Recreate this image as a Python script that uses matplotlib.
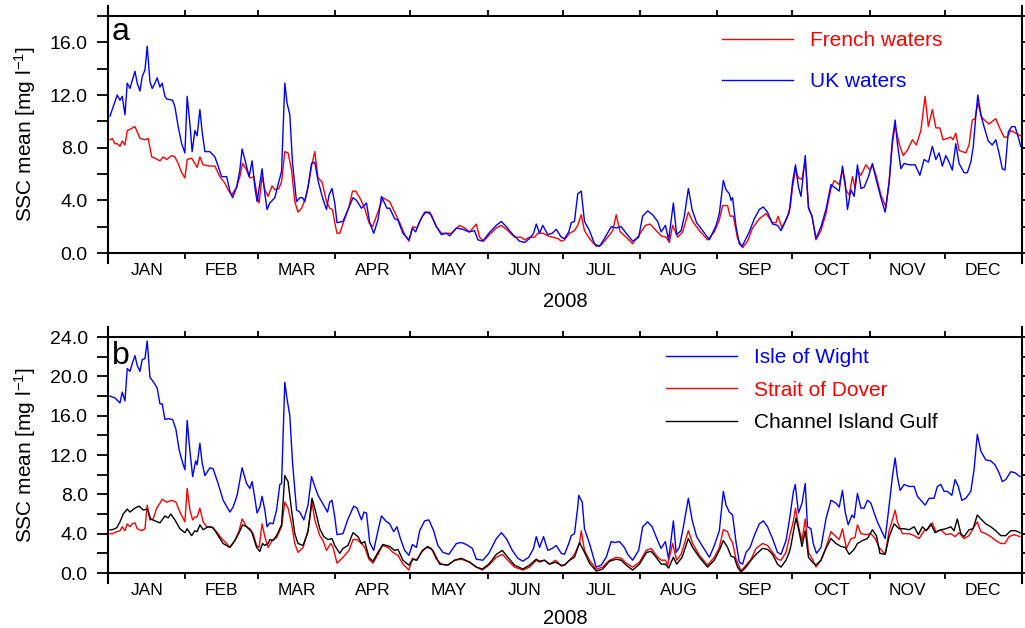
import matplotlib
matplotlib.use("Agg")
import matplotlib.pyplot as plt
from matplotlib.ticker import MultipleLocator, FixedLocator, NullFormatter, FixedFormatter, FormatStrFormatter

plt.rcParams['font.family'] = ['Liberation Sans', 'DejaVu Sans']
plt.rcParams['mathtext.fontset'] = 'custom'
plt.rcParams['mathtext.rm'] = 'Liberation Sans'
plt.rcParams['mathtext.it'] = 'Liberation Sans:italic'

# ---- data (day of year 2008, 0 = 1 Jan) ----
month_names = ['JAN', 'FEB', 'MAR', 'APR', 'MAY', 'JUN', 'JUL', 'AUG', 'SEP', 'OCT', 'NOV', 'DEC']
month_start = [0, 31, 60, 91, 121, 152, 182, 213, 244, 274, 305, 335, 366]

# panel a - UK waters
uk_day = [0.8, 2.8, 3.7, 4.8, 5.7, 6.8, 7.7, 8.8, 9.7, 10.8, 11.7, 12.8, 13.7, 14.8, 15.7, 16.8, 17.7, 18.8, 19.7, 20.8,
          21.7, 22.8, 23.5, 25.9, 26.8, 28.1, 29.5, 30.8, 31.7, 32.8, 33.7, 34.8, 35.7, 36.8, 37.7, 38.8, 40.8, 42.8, 44.1, 45.5,
          47.5, 48.8, 49.9, 51.5, 52.8, 53.7, 54.8, 56.5, 57.7, 58.8, 59.7, 61.7, 62.8, 63.7, 64.8, 66.8, 68.1, 69.5, 70.8, 71.7,
          72.8, 73.9, 75.5, 76.8, 77.9, 78.8, 80.1, 81.5, 82.8, 84.1, 85.9, 87.5, 88.5, 89.7, 90.8, 91.7, 94.1, 96.1, 98.1, 99.5,
          101.5, 103.5, 104.8, 106.4, 108.1, 109.5, 111.7, 112.8, 114.8, 116.1, 118.1, 120.5, 121.9, 123.2, 124.8, 126.8, 128.8, 131.5, 133.5, 135.5,
          136.8, 139.5, 142.1, 144.5, 146.8, 148.1, 150.1, 152.5, 155.5, 157.5, 159.5, 162.1, 164.8, 166.8, 168.8, 170.4, 171.5, 172.8, 174.1, 176.1,
          177.9, 179.5, 181.5, 182.8, 184.5, 185.5, 186.8, 188.1, 189.5, 190.8, 192.8, 194.8, 196.8, 198.8, 201.5, 203.5, 205.5, 207.5, 210.1, 212.5,
          214.1, 216.1, 218.1, 220.1, 221.5, 223.2, 224.5, 226.4, 227.7, 229.5, 230.8, 232.4, 233.9, 235.7, 238.1, 240.8, 243.5, 244.8, 246.4, 247.5,
          248.8, 249.5, 250.1, 251.5, 252.8, 253.9, 255.2, 256.8, 258.8, 260.8, 262.4, 264.1, 266.1, 268.1, 269.5, 271.5, 272.8, 274.2, 275.3, 276.5,
          277.5, 279.2, 280.5, 281.9, 283.5, 285.5, 287.5, 289.5, 291.5, 292.8, 294.1, 295.2, 296.1, 297.5, 298.8, 300.1, 301.5, 302.8, 304.5, 306.1,
          307.7, 309.5, 311.2, 312.8, 314.1, 315.2, 316.1, 317.5, 318.8, 320.8, 323.2, 325.1, 326.8, 328.5, 330.1, 331.5, 332.8, 334.1, 335.5, 336.8,
          338.1, 339.5, 340.8, 342.8, 344.1, 345.5, 346.5, 347.5, 348.3, 349.5, 350.8, 352.5, 354.1, 355.5, 356.8, 358.1, 359.2, 360.5, 361.9, 363.2,
          364.5, 365.5]
uk_ssc = [10.4, 11.5, 12.0, 11.6, 11.9, 10.5, 12.9, 12.5, 13.1, 13.8, 12.9, 12.3, 13.4, 13.9, 15.7, 13.0, 12.5, 12.9, 13.3, 12.6,
          12.9, 11.9, 11.7, 11.6, 11.1, 9.6, 8.3, 7.6, 11.9, 9.8, 7.7, 9.3, 8.9, 10.9, 9.2, 7.7, 7.7, 7.3, 6.6, 5.8,
          5.8, 4.7, 4.2, 5.0, 6.3, 7.9, 7.1, 5.8, 7.0, 5.0, 3.9, 6.4, 4.5, 3.3, 3.8, 4.2, 5.2, 6.2, 12.9, 11.4,
          10.5, 6.8, 3.9, 4.2, 4.2, 3.9, 5.0, 6.8, 6.9, 5.5, 4.2, 3.3, 4.4, 4.9, 3.8, 2.3, 2.4, 3.3, 4.2, 4.0,
          3.4, 3.8, 2.3, 1.5, 2.5, 4.3, 3.4, 3.4, 2.6, 2.5, 1.5, 1.0, 1.9, 1.6, 2.4, 3.1, 3.1, 2.0, 1.4, 1.5,
          1.3, 1.9, 1.8, 1.6, 1.7, 1.0, 0.9, 1.5, 2.1, 2.4, 2.0, 1.4, 0.9, 0.8, 1.1, 1.5, 2.2, 1.5, 2.1, 1.4,
          1.5, 1.8, 1.2, 1.1, 1.6, 2.3, 2.4, 4.5, 4.7, 2.4, 1.7, 0.7, 0.5, 1.1, 2.0, 1.9, 2.0, 1.5, 0.9, 1.2,
          2.8, 3.2, 2.9, 2.4, 1.6, 2.1, 1.0, 3.8, 1.4, 1.7, 2.8, 4.9, 3.3, 2.3, 1.7, 1.0, 2.1, 3.0, 5.5, 4.8,
          4.5, 4.0, 4.2, 2.0, 0.7, 0.5, 1.0, 1.6, 2.6, 3.3, 3.5, 3.1, 2.2, 2.1, 1.7, 2.5, 3.1, 5.5, 6.7, 5.0,
          4.3, 7.4, 3.4, 2.8, 1.1, 2.0, 3.3, 5.2, 4.9, 4.7, 6.6, 5.3, 3.3, 4.8, 4.3, 6.7, 4.9, 5.0, 5.8, 6.8,
          5.5, 4.2, 3.1, 5.3, 8.6, 10.1, 8.3, 6.4, 6.8, 6.7, 6.7, 5.9, 7.1, 6.9, 8.1, 7.1, 7.6, 6.6, 7.4, 6.9,
          6.3, 8.3, 6.8, 6.1, 6.1, 6.9, 8.1, 10.4, 12.0, 10.5, 9.6, 8.5, 8.2, 8.6, 7.6, 6.4, 6.3, 9.2, 9.6, 9.6,
          8.8, 8.1]

# panel a - French waters
fr_day = [0.8, 1.7, 2.8, 3.7, 4.8, 5.7, 6.8, 7.7, 8.8, 10.8, 12.8, 14.8, 16.1, 17.5, 18.8, 20.8, 22.1, 23.5, 25.5, 26.8,
          28.1, 29.5, 30.8, 31.7, 33.5, 34.8, 35.7, 36.8, 38.1, 40.8, 42.8, 44.8, 46.8, 48.1, 49.5, 51.5, 52.8, 53.9, 55.5, 56.8,
          58.4, 59.7, 60.5, 61.7, 62.8, 64.1, 65.7, 66.8, 68.4, 69.5, 70.8, 72.1, 73.5, 74.8, 76.1, 77.5, 78.8, 80.1, 81.5, 82.8,
          84.1, 85.7, 87.5, 88.8, 89.9, 90.8, 91.7, 92.8, 94.8, 96.5, 97.9, 99.2, 100.8, 102.8, 104.5, 105.9, 107.5, 110.1, 112.8, 114.8,
          116.8, 118.8, 120.5, 122.1, 123.7, 125.9, 127.5, 129.5, 131.5, 133.5, 135.5, 137.5, 140.8, 142.8, 144.8, 147.5, 148.8, 150.4, 152.8, 155.5,
          157.5, 160.1, 162.8, 165.5, 166.8, 168.8, 170.8, 172.1, 174.1, 176.1, 178.1, 180.1, 181.5, 182.8, 184.8, 186.8, 188.1, 189.5, 190.8, 192.8,
          195.5, 197.5, 200.1, 202.1, 203.5, 205.1, 207.5, 210.1, 212.8, 215.2, 217.1, 219.5, 221.5, 223.5, 224.8, 226.1, 228.1, 230.1, 232.4, 234.1,
          236.8, 240.1, 242.8, 244.8, 246.1, 248.1, 249.1, 250.4, 252.1, 254.1, 256.1, 258.1, 260.8, 263.5, 266.1, 267.5, 268.3, 269.9, 272.1, 273.3,
          274.1, 275.3, 276.5, 277.9, 279.2, 280.5, 281.9, 283.5, 285.5, 287.5, 289.5, 290.8, 292.8, 294.1, 295.5, 296.8, 298.1, 299.2, 300.1, 301.5,
          303.5, 305.1, 306.1, 307.7, 309.5, 311.5, 312.8, 314.1, 315.2, 316.8, 318.4, 320.1, 322.1, 323.7, 325.5, 327.2, 328.5, 330.1, 331.5, 333.1,
          334.4, 336.1, 337.5, 338.4, 339.5, 340.8, 342.1, 343.5, 344.8, 346.1, 347.2, 348.3, 349.9, 351.5, 352.8, 354.1, 355.5, 356.8, 358.8, 360.1,
          361.5, 363.5, 365.5]
fr_ssc = [8.6, 8.7, 8.3, 8.3, 8.1, 8.5, 8.2, 9.3, 9.4, 9.6, 8.7, 8.6, 8.7, 7.3, 7.2, 7.0, 7.3, 7.1, 7.4, 7.3,
          6.8, 6.1, 5.7, 7.1, 7.2, 6.8, 6.5, 7.3, 6.7, 6.6, 6.6, 5.8, 5.3, 4.8, 4.4, 5.0, 5.8, 6.8, 6.3, 5.7,
          5.8, 4.4, 3.8, 5.8, 4.8, 4.3, 5.1, 4.8, 4.9, 5.4, 7.7, 7.6, 6.3, 3.9, 3.1, 3.4, 4.0, 5.0, 6.6, 7.7,
          5.7, 5.4, 3.9, 3.4, 3.3, 2.3, 1.5, 1.5, 2.6, 3.5, 4.7, 4.7, 4.2, 3.4, 2.3, 2.0, 2.8, 4.2, 3.9, 3.1,
          2.3, 1.4, 0.9, 2.0, 1.9, 2.8, 3.1, 2.9, 2.0, 1.5, 1.5, 1.5, 2.1, 1.9, 1.6, 2.2, 1.2, 0.9, 1.4, 1.9,
          2.1, 1.7, 1.2, 1.2, 1.0, 1.2, 1.2, 1.5, 1.5, 1.3, 1.2, 1.1, 0.9, 1.0, 1.5, 1.7, 2.1, 2.9, 1.7, 1.1,
          0.5, 0.6, 1.2, 1.7, 2.9, 1.6, 1.2, 0.7, 1.4, 2.1, 2.2, 1.7, 1.3, 1.2, 0.8, 2.1, 1.2, 1.6, 3.1, 2.4,
          1.7, 1.0, 1.6, 2.5, 3.6, 3.6, 2.8, 2.8, 1.1, 0.4, 0.9, 1.9, 2.6, 3.0, 2.3, 2.3, 2.8, 1.9, 2.8, 3.6,
          5.0, 6.3, 5.7, 5.6, 7.1, 3.5, 2.8, 1.0, 1.7, 3.0, 4.9, 5.5, 5.2, 6.3, 4.8, 4.4, 5.8, 4.9, 6.3, 5.9,
          6.7, 6.3, 6.7, 5.8, 4.4, 3.5, 5.5, 8.3, 9.7, 8.3, 7.4, 7.8, 8.6, 8.2, 9.3, 11.9, 9.6, 10.9, 9.5, 9.5,
          8.6, 8.7, 8.8, 8.6, 9.1, 7.8, 7.7, 7.6, 8.2, 10.1, 10.2, 11.4, 10.3, 10.0, 9.8, 10.0, 10.2, 9.6, 8.8, 8.8,
          9.3, 9.1, 8.9]

# panel b - Isle of Wight
iow_day = [0.8, 1.7, 2.8, 4.8, 5.7, 6.8, 7.7, 8.8, 9.7, 10.8, 11.7, 12.8, 13.7, 14.8, 15.7, 16.8, 17.7, 18.8, 19.7, 20.8,
           21.7, 22.8, 24.1, 25.9, 27.2, 28.5, 29.9, 30.8, 31.7, 32.8, 33.9, 35.1, 35.7, 36.8, 37.7, 38.8, 40.8, 42.1, 44.1, 46.1,
           48.8, 50.1, 51.7, 53.7, 55.5, 56.8, 57.7, 58.8, 59.7, 60.8, 61.7, 62.8, 63.7, 64.8, 66.1, 67.5, 68.8, 69.5, 70.8, 71.7,
           72.8, 73.9, 75.5, 76.8, 78.4, 80.1, 81.5, 82.8, 84.1, 85.9, 87.9, 88.8, 89.7, 90.8, 91.7, 94.1, 96.1, 98.4, 99.7, 101.5,
           102.5, 103.5, 104.8, 106.4, 108.1, 109.5, 111.2, 112.8, 114.4, 115.7, 117.1, 118.8, 120.5, 121.9, 123.5, 124.8, 126.8, 128.5, 130.4, 132.1,
           134.1, 136.5, 139.5, 141.5, 143.5, 145.9, 147.5, 150.1, 152.5, 155.5, 157.5, 159.5, 161.9, 164.1, 166.1, 168.5, 170.4, 171.5, 172.8, 174.4,
           176.1, 177.9, 179.5, 181.5, 182.8, 184.5, 185.5, 186.8, 188.1, 188.5, 189.9, 190.8, 192.8, 195.5, 197.5, 199.5, 201.5, 202.8, 204.8, 206.8,
           208.1, 210.1, 212.5, 214.1, 216.1, 217.9, 220.1, 221.5, 223.2, 224.5, 226.4, 227.5, 228.8, 230.4, 232.4, 233.9, 235.7, 238.1, 240.8, 242.8,
           244.8, 246.4, 247.5, 248.8, 250.1, 251.5, 252.8, 254.1, 255.5, 257.1, 258.8, 260.8, 262.4, 264.1, 266.1, 268.1, 269.5, 271.5, 273.0, 274.4,
           275.2, 276.5, 277.9, 279.2, 280.1, 281.5, 282.4, 283.7, 285.5, 287.5, 289.5, 291.5, 292.8, 294.1, 295.2, 296.4, 297.9, 298.8, 300.1, 301.5,
           302.8, 304.1, 305.5, 306.8, 308.1, 309.9, 311.2, 312.5, 314.1, 315.2, 316.1, 317.2, 318.8, 320.8, 322.8, 324.1, 325.5, 327.2, 328.8, 330.8,
           332.1, 333.5, 334.8, 336.1, 337.9, 339.2, 340.5, 341.9, 343.5, 345.5, 346.8, 348.1, 349.5, 351.5, 353.5, 355.2, 356.8, 358.1, 359.5, 361.5,
           363.2, 365.2]
iow_ssc = [18.0, 17.9, 17.8, 17.3, 18.4, 17.5, 20.8, 20.5, 21.3, 22.1, 21.1, 20.5, 21.7, 21.8, 23.6, 19.9, 19.6, 19.2, 18.8, 17.2,
           17.2, 15.6, 15.7, 15.6, 14.6, 12.5, 11.2, 10.5, 15.5, 12.4, 9.8, 11.4, 11.0, 13.2, 11.2, 9.9, 10.7, 10.6, 9.1, 7.4,
           6.2, 6.7, 7.9, 10.7, 9.1, 8.6, 9.3, 7.6, 6.1, 6.7, 7.8, 6.4, 4.7, 5.1, 5.0, 6.4, 9.0, 9.1, 19.4, 17.7,
           16.0, 11.2, 6.4, 6.2, 5.4, 6.9, 9.8, 8.8, 7.9, 7.1, 6.2, 7.2, 7.4, 5.7, 3.9, 4.0, 5.5, 6.8, 6.6, 5.4,
           6.2, 6.1, 3.1, 2.3, 4.3, 5.8, 5.3, 5.0, 4.2, 4.7, 3.5, 2.3, 1.8, 2.9, 2.6, 4.3, 5.3, 5.4, 4.3, 2.8,
           2.1, 1.9, 3.0, 3.1, 2.9, 2.5, 1.4, 1.3, 2.0, 3.5, 4.1, 3.5, 2.3, 1.5, 1.2, 1.6, 2.5, 3.7, 2.6, 3.7,
           2.3, 2.5, 2.8, 2.0, 1.9, 3.0, 3.8, 4.0, 6.7, 7.9, 7.2, 4.5, 3.0, 0.6, 0.8, 1.6, 3.2, 3.1, 3.2, 2.6,
           1.9, 1.3, 2.3, 4.7, 5.2, 4.7, 3.3, 2.5, 3.2, 1.4, 5.3, 2.1, 2.6, 4.7, 7.6, 5.4, 3.7, 2.7, 1.6, 2.8,
           4.3, 8.3, 6.9, 6.2, 5.9, 3.1, 1.1, 0.9, 2.1, 2.6, 3.8, 5.0, 5.3, 4.7, 3.5, 2.1, 1.9, 3.3, 5.6, 8.2,
           9.0, 6.1, 7.1, 9.1, 4.7, 4.5, 3.0, 2.0, 2.6, 5.5, 7.4, 7.1, 6.7, 8.4, 6.2, 4.9, 5.9, 5.6, 8.1, 6.6,
           6.6, 7.4, 7.1, 6.1, 5.2, 4.2, 3.5, 6.2, 9.8, 11.7, 9.8, 8.4, 9.0, 8.8, 8.8, 7.8, 7.4, 6.9, 7.6, 7.6,
           8.8, 9.0, 8.3, 8.3, 7.9, 9.5, 8.8, 7.4, 7.6, 8.3, 10.5, 14.1, 12.4, 11.5, 11.4, 11.0, 10.2, 9.3, 9.5, 10.3,
           10.2, 9.8]

# panel b - Strait of Dover
sod_day = [0.8, 1.7, 3.5, 4.8, 5.7, 6.8, 7.7, 8.8, 9.7, 10.8, 11.7, 13.5, 14.8, 15.7, 16.8, 18.1, 19.5, 20.8, 21.7, 23.5,
           25.5, 27.2, 28.8, 30.8, 31.7, 32.8, 33.9, 34.8, 35.7, 36.8, 38.1, 39.5, 41.5, 43.5, 45.5, 47.5, 48.8, 50.8, 52.5, 53.7,
           55.5, 56.8, 58.1, 59.5, 60.5, 61.7, 62.8, 64.1, 65.7, 67.5, 69.5, 70.8, 72.1, 73.5, 74.8, 76.1, 78.1, 80.1, 81.7, 82.8,
           84.8, 86.1, 87.5, 89.2, 90.1, 91.7, 94.1, 96.5, 98.1, 99.7, 101.5, 102.8, 104.5, 106.1, 108.1, 109.9, 112.1, 114.1, 116.1, 118.1,
           120.5, 121.9, 123.5, 125.5, 127.5, 129.5, 131.5, 133.5, 136.1, 138.8, 141.5, 144.8, 147.5, 149.9, 152.5, 155.5, 157.9, 160.1, 162.8, 166.1,
           168.8, 171.5, 172.8, 174.8, 176.8, 179.2, 181.5, 182.8, 184.8, 186.8, 188.8, 189.5, 190.8, 192.8, 195.5, 198.1, 200.8, 203.5, 205.5, 207.5,
           210.1, 212.8, 215.5, 217.5, 219.5, 221.5, 223.2, 224.1, 226.1, 227.7, 229.5, 232.4, 234.1, 236.8, 240.1, 242.8, 244.8, 246.4, 248.1, 249.1,
           250.1, 251.5, 253.5, 255.5, 257.5, 259.5, 262.1, 264.1, 266.1, 268.1, 269.5, 271.5, 273.1, 274.3, 275.3, 276.6, 277.9, 279.2, 280.5, 282.1,
           283.5, 285.5, 287.5, 289.5, 291.5, 292.8, 294.1, 295.7, 297.5, 299.1, 300.1, 301.5, 303.5, 305.5, 307.2, 308.8, 311.2, 312.8, 314.1, 315.2,
           316.1, 318.1, 320.8, 322.8, 324.8, 326.8, 328.5, 330.1, 331.5, 333.5, 335.5, 337.5, 339.2, 340.8, 342.8, 344.8, 346.8, 348.1, 349.5, 351.5,
           353.5, 355.5, 357.5, 359.2, 360.8, 362.8, 365.2]
sod_ssc = [4.0, 4.0, 4.2, 4.3, 4.7, 4.3, 5.0, 4.7, 5.0, 5.1, 4.5, 4.3, 4.5, 6.9, 5.4, 5.5, 6.6, 7.1, 7.5, 7.2,
           7.4, 7.2, 6.2, 5.2, 8.6, 6.4, 5.4, 5.7, 5.7, 6.6, 5.2, 4.7, 4.7, 4.2, 3.5, 3.0, 2.6, 3.3, 4.3, 5.5,
           4.7, 4.5, 4.0, 2.8, 2.6, 5.0, 3.7, 2.6, 3.3, 3.6, 4.7, 7.2, 6.6, 5.0, 3.0, 2.1, 2.6, 4.3, 7.2, 5.4,
           3.8, 3.3, 2.3, 3.0, 2.6, 1.0, 1.6, 2.3, 3.4, 3.4, 3.0, 2.6, 1.4, 1.0, 1.9, 2.8, 2.6, 2.1, 1.8, 0.9,
           0.3, 1.5, 1.3, 2.1, 2.6, 2.5, 1.4, 0.9, 0.8, 1.3, 1.4, 1.1, 0.6, 0.3, 0.8, 1.6, 1.9, 1.3, 0.6, 0.3,
           0.6, 1.3, 1.1, 1.3, 0.9, 1.3, 0.7, 0.8, 1.3, 1.9, 3.0, 4.3, 2.3, 1.3, 0.4, 0.6, 1.3, 1.6, 1.5, 1.0,
           0.6, 1.1, 2.3, 2.5, 1.8, 1.3, 1.3, 0.8, 3.0, 1.3, 1.9, 4.3, 3.0, 1.8, 0.8, 1.6, 2.6, 4.4, 4.2, 3.5,
           3.1, 1.4, 0.2, 0.8, 1.4, 2.5, 3.0, 2.8, 2.1, 1.4, 1.3, 2.1, 3.9, 5.1, 6.6, 4.6, 3.3, 5.5, 2.1, 1.4,
           0.6, 1.3, 2.6, 4.2, 3.7, 3.4, 4.5, 2.5, 3.5, 3.6, 4.9, 4.0, 3.9, 4.0, 3.5, 2.6, 1.9, 4.3, 5.4, 6.4,
           5.2, 4.0, 4.0, 3.8, 3.5, 4.3, 4.5, 5.1, 4.2, 4.4, 3.9, 4.0, 3.7, 4.1, 3.5, 3.8, 4.7, 5.2, 4.2, 4.0,
           3.7, 3.3, 3.0, 3.0, 3.7, 3.9, 3.7]

# panel b - Channel Island Gulf
cig_day = [0.8, 1.7, 3.5, 4.8, 6.1, 7.7, 8.8, 10.8, 12.5, 14.1, 15.7, 17.1, 18.8, 20.8, 22.8, 24.1, 25.1, 26.8, 28.8, 30.8,
           31.7, 33.5, 34.8, 35.7, 36.8, 38.1, 40.1, 42.1, 44.1, 46.1, 48.8, 50.8, 52.5, 53.9, 55.5, 57.5, 59.5, 60.8, 61.9, 62.8,
           64.1, 64.8, 66.1, 67.5, 69.5, 70.8, 72.1, 73.5, 74.8, 76.1, 78.1, 80.1, 81.7, 83.2, 84.8, 86.4, 88.1, 89.7, 90.8, 92.8,
           94.1, 96.1, 98.1, 100.1, 101.5, 102.8, 104.5, 106.1, 108.1, 110.1, 112.8, 114.8, 116.1, 118.1, 120.5, 122.1, 123.7, 125.9, 128.1, 130.1,
           132.8, 136.1, 138.8, 141.5, 144.8, 147.5, 149.9, 152.5, 155.5, 157.9, 160.1, 162.8, 166.1, 168.8, 171.5, 172.8, 174.8, 176.8, 179.2, 181.5,
           182.8, 184.8, 186.8, 188.8, 190.8, 192.8, 195.5, 198.1, 200.8, 203.5, 205.5, 207.5, 210.1, 212.8, 215.7, 217.5, 219.5, 221.5, 223.2, 224.5,
           226.4, 227.7, 229.9, 232.4, 234.1, 236.8, 240.1, 242.8, 244.8, 246.4, 248.1, 249.5, 250.8, 252.1, 253.5, 255.5, 257.5, 259.5, 262.1, 264.1,
           266.1, 268.1, 269.5, 271.5, 272.8, 273.5, 274.6, 275.5, 276.6, 277.9, 279.2, 280.5, 282.1, 283.5, 285.5, 287.5, 289.5, 291.5, 293.5, 295.2,
           296.8, 298.8, 300.1, 302.1, 304.1, 306.1, 307.7, 309.1, 311.2, 312.8, 314.8, 316.8, 318.8, 320.8, 322.8, 324.5, 326.1, 327.7, 329.5, 331.2,
           333.5, 335.5, 337.5, 338.8, 340.1, 341.5, 342.8, 344.8, 346.4, 348.1, 349.5, 351.5, 353.5, 355.5, 357.5, 359.5, 361.5, 363.5, 365.2]
cig_ssc = [4.4, 4.4, 4.6, 5.2, 6.0, 6.5, 6.2, 6.6, 6.8, 6.4, 6.5, 5.5, 5.3, 5.1, 5.8, 5.6, 6.0, 5.4, 4.5, 4.1,
           4.5, 3.8, 4.3, 4.2, 4.9, 4.4, 4.7, 4.6, 3.8, 3.0, 2.6, 3.3, 4.1, 4.9, 4.7, 4.2, 2.6, 2.2, 3.0, 2.8,
           3.0, 3.4, 3.3, 3.8, 4.9, 9.9, 9.3, 6.4, 4.0, 3.0, 2.8, 4.2, 7.6, 6.2, 4.5, 3.7, 3.4, 3.5, 2.8, 2.0,
           2.5, 2.8, 4.1, 3.7, 3.0, 3.2, 1.6, 1.2, 2.1, 2.9, 2.7, 2.3, 2.4, 1.3, 0.8, 1.4, 1.3, 2.3, 2.7, 2.3,
           0.9, 0.8, 1.3, 1.5, 1.1, 0.6, 0.4, 0.9, 1.9, 2.3, 1.6, 0.8, 0.4, 0.8, 1.4, 1.2, 1.3, 0.9, 1.1, 0.8,
           0.8, 1.3, 1.6, 3.1, 2.1, 1.0, 0.2, 0.4, 1.2, 1.4, 1.3, 0.8, 0.3, 0.9, 2.1, 2.2, 1.6, 0.9, 0.9, 0.5,
           1.6, 0.9, 1.6, 3.5, 2.6, 1.6, 0.6, 1.3, 2.3, 3.3, 2.6, 1.7, 1.6, 0.6, 0.1, 0.6, 1.3, 1.9, 2.5, 2.4,
           1.9, 0.9, 0.6, 1.3, 2.1, 2.8, 4.4, 5.6, 4.4, 2.7, 4.3, 1.6, 1.1, 0.8, 1.3, 2.5, 3.5, 3.0, 2.7, 2.6,
           1.9, 2.4, 3.0, 3.3, 3.5, 4.4, 3.8, 2.0, 1.9, 3.7, 5.0, 4.5, 4.5, 4.4, 4.7, 3.9, 4.7, 4.3, 5.0, 4.1,
           4.4, 4.5, 4.7, 4.3, 5.5, 4.0, 3.7, 4.4, 4.5, 5.9, 5.5, 5.0, 4.7, 4.3, 3.8, 3.8, 4.3, 4.3, 4.1]

# ---- figure ----
fig = plt.figure(figsize=(10.25, 6.28), dpi=100)
ax_a = fig.add_axes([108 / 1025, 1 - 253 / 628, 914 / 1025, 237 / 628])
ax_b = fig.add_axes([108 / 1025, 1 - 573 / 628, 914 / 1025, 236 / 628])

mids = [(a + b) / 2 for a, b in zip(month_start[:-1], month_start[1:])]


def style_axes(ax, ymax, ext):
    ax.set_xlim(0, 366)
    ax.set_ylim(0, ymax)
    ax.xaxis.set_major_locator(FixedLocator(month_start))
    ax.xaxis.set_major_formatter(NullFormatter())
    ax.xaxis.set_minor_locator(FixedLocator(mids))
    ax.xaxis.set_minor_formatter(FixedFormatter(month_names))
    ax.tick_params(axis='x', which='major', direction='out', length=4, width=1.3, top=True)
    ax.tick_params(axis='x', which='minor', length=0, pad=7, labelsize=12.5)
    ax.yaxis.set_major_locator(MultipleLocator(4))
    ax.yaxis.set_minor_locator(MultipleLocator(2))
    ax.yaxis.set_major_formatter(FormatStrFormatter('%.1f'))
    ax.tick_params(axis='y', which='both', direction='out', length=8, width=1.3,
                   right=True, labelsize=14, pad=6.5)
    for sp in ax.spines.values():
        sp.set_linewidth(1.5)
    ax.spines['left'].set_bounds(-ext, ymax + ext)
    ax.spines['right'].set_bounds(-ext, ymax + ext)
    ax.set_ylabel('SSC mean [mg l$^{-1}$]', fontsize=15)
    ax.yaxis.set_label_coords(-0.077, 0.5)
    ax.set_xlabel('2008', fontsize=14.5, labelpad=9)


# panel a
ax_a.plot(fr_day, fr_ssc, color='#ff0000', lw=1.0, label='French waters')
ax_a.plot(uk_day, uk_ssc, color='#0000ff', lw=1.0, label='UK waters')
style_axes(ax_a, 18, 0.76)
ax_a.xaxis.labelpad = 10
ax_a.text(0.004, 0.9, 'a', transform=ax_a.transAxes, fontsize=23, va='baseline')
ax_a.legend(loc='upper left', bbox_to_anchor=(722 / 1025, 1 - 31 / 628), bbox_transform=fig.transFigure,
            frameon=False, fontsize=15, handlelength=3.4, handletextpad=0.8, labelspacing=1.05,
            borderpad=0, borderaxespad=0, labelcolor='linecolor')

# panel b
ax_b.plot(iow_day, iow_ssc, color='#0000ff', lw=1.0, label='Isle of Wight')
ax_b.plot(sod_day, sod_ssc, color='#ff0000', lw=1.0, label='Strait of Dover')
ax_b.plot(cig_day, cig_ssc, color='black', lw=1.0, label='Channel Island Gulf')
style_axes(ax_b, 24, 1.0)
ax_b.xaxis.labelpad = 8
ax_b.text(0.004, 0.885, 'b', transform=ax_b.transAxes, fontsize=23, va='baseline')
ax_b.legend(loc='upper left', bbox_to_anchor=(666 / 1025, 1 - 348 / 628), bbox_transform=fig.transFigure,
            frameon=False, fontsize=15, handlelength=3.4, handletextpad=0.8, labelspacing=0.66,
            borderpad=0, borderaxespad=0, labelcolor='linecolor')

fig.savefig('out.png', dpi=100)
